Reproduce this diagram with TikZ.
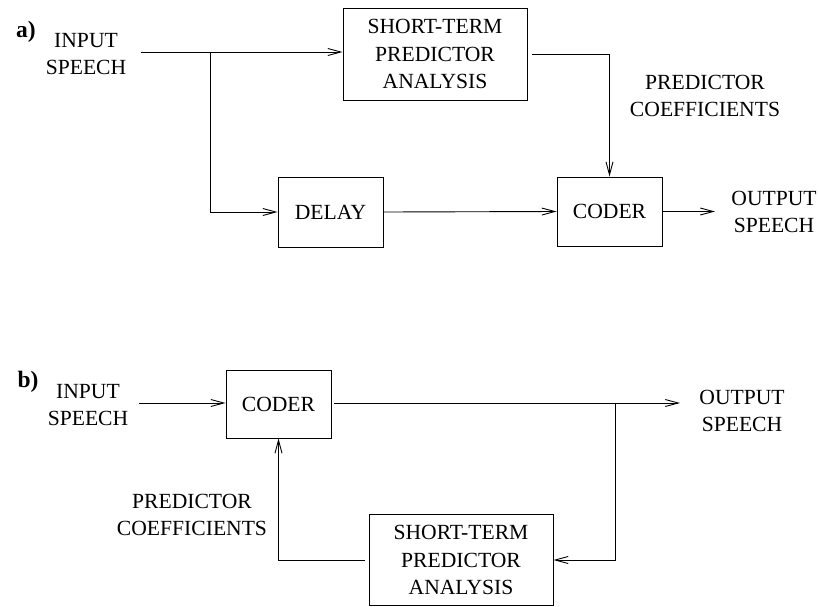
\documentclass[tikz,border=0pt]{standalone}
\usepackage{fontspec}
\setmainfont{Liberation Serif}
\usetikzlibrary{arrows.meta}
\tikzset{
  blk/.style={draw, line width=0.9pt, inner sep=0pt, align=center, font=\fontsize{21.6}{27.5}\selectfont},
  lbl/.style={inner sep=0pt, align=center, font=\fontsize{21.6}{27.5}\selectfont},
  tag/.style={inner sep=0pt, anchor=base, font=\fontsize{23.5}{26}\selectfont\bfseries},
  wire/.style={line width=0.9pt},
  arr/.style={wire, -{Straight Barb[length=13pt,width=7pt]}}
}
\begin{document}
\begin{tikzpicture}[x=1pt,y=-1pt]
\useasboundingbox (0,0) rectangle (819,606);
% ---- a) ----
\node[tag] (ta) at (26,37) {a)};
\node[lbl] (ina) at (86,54) {INPUT\\SPEECH};
\node[blk, minimum width=184pt, minimum height=92pt] (stpa) at (435,54) {SHORT-TERM\\PREDICTOR\\ANALYSIS};
\node[blk, minimum width=105pt, minimum height=70pt] (delay) at (330.5,212) {DELAY};
\node[blk, minimum width=105pt, minimum height=69pt] (codera) at (609.5,211.5) {CODER};
\node[lbl] (pca) at (705,96) {PREDICTOR\\COEFFICIENTS};
\node[lbl] (outa) at (774,212) {OUTPUT\\SPEECH};
\coordinate (ia) at (141,52);
\coordinate (ba) at (210,52);
\coordinate (ea) at (715,211.5);
\coordinate (ca) at (609.5,54);
\draw[arr] (ia) -- (stpa.west |- ia);
\draw[arr] (ba) -- (ba |- delay.west) -- (delay.west);
\draw[arr] (delay.east) -- (codera.west);
\draw[arr] ([xshift=5pt]stpa.east) -- (ca) -- (codera.north);
\draw[arr] (codera.east) -- (ea);
% ---- b) ----
\node[tag] (tb) at (28,387) {b)};
\node[lbl] (inb) at (88,405) {INPUT\\SPEECH};
\node[blk, minimum width=105pt, minimum height=68pt] (coderb) at (278.5,404) {CODER};
\node[blk, minimum width=184pt, minimum height=91pt] (stpb) at (461,560) {SHORT-TERM\\PREDICTOR\\ANALYSIS};
\node[lbl] (outb) at (742,411) {OUTPUT\\SPEECH};
\node[lbl] (pcb) at (192,515) {PREDICTOR\\COEFFICIENTS};
\coordinate (ib) at (139,403);
\coordinate (eb) at (680,403);
\coordinate (bb) at (615,403);
\coordinate (cb) at (278.5,560);
\draw[arr] (ib) -- (coderb.west |- ib);
\draw[arr] ([xshift=3pt]coderb.east |- eb) -- (eb);
\draw[arr] (bb) -- (bb |- stpb.east) -- (stpb.east);
\draw[arr] ([xshift=-4pt]stpb.west) -- (cb) -- (coderb.south);
\end{tikzpicture}
\end{document}
